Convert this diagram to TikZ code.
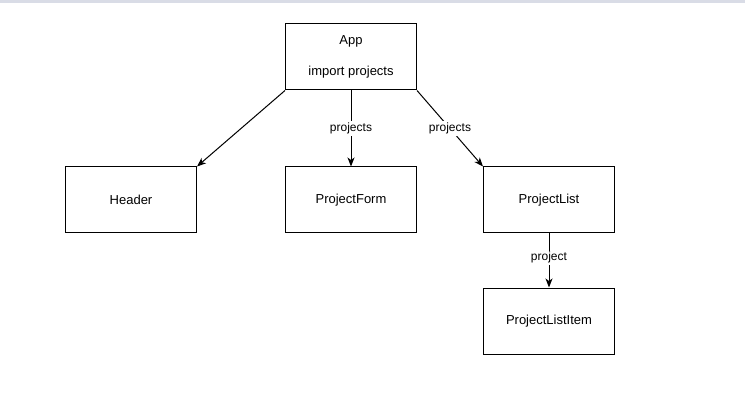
\documentclass[tikz,border=0pt]{standalone}
\usepackage{fontspec}
\setmainfont{Liberation Sans}
\usepackage{xcolor}
\usetikzlibrary{arrows.meta}
\definecolor{topband}{HTML}{D9DCE6}

\begin{document}
\begin{tikzpicture}[x=1pt,y=-1pt,>={Stealth[length=9pt,width=7pt,inset=2.5pt]},
                    line width=1pt,
                    comp node/.style={rectangle,draw,minimum width=131pt,minimum height=66pt,
                                      inner sep=0pt,font=\fontsize{13}{15}\selectfont},
                    prop label/.style={fill=white,inner sep=1.5pt,font=\fontsize{12}{14}\selectfont}]
\useasboundingbox (0,0) rectangle (745,417);
\fill[topband] (0,0) rectangle (745,3.5);

\node[comp node,align=center] (app) at (351,57) {App\\[16pt]import projects};
\node[comp node] (header) at (131,200) {Header};
\node[comp node] (form) at (351,200) {ProjectForm};
\node[comp node] (list) at (549,200) {ProjectList};
\node[comp node] (item) at (549,321) {ProjectListItem};

\path[->]
  (app.south west) edge (header.north east)
  (app.south) edge node[prop label] {projects} (form.north)
  (app.south east) edge node[prop label] {projects} (list.north west)
  (list.south) edge node[prop label,pos=0.45] {project} (item.north);

\end{tikzpicture}
\end{document}
